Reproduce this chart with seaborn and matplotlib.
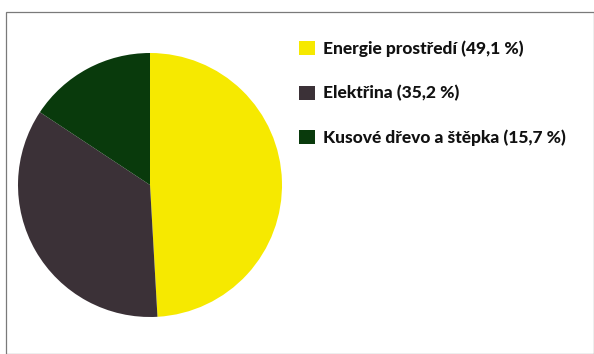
import matplotlib
matplotlib.use("Agg")
import matplotlib.pyplot as plt
import seaborn as sns
from matplotlib.patches import Rectangle, Patch

categories = ["Energie prostředí", "Elektřina", "Kusové dřevo a štěpka"]
values = [49.1, 35.2, 15.7]
value_labels = ["49,1 %", "35,2 %", "15,7 %"]
colors = ["#f6e900", "#3b3137", "#093a0c"]

sns.set_theme(style="white")
plt.rcParams['font.family'] = ['Lato', 'DejaVu Sans']

W, H = 594, 354
fig = plt.figure(figsize=(W / 100, H / 100), dpi=100)
fig.patch.set_facecolor("white")

# outer frame
fig.add_artist(Rectangle((6 / W, 0.5 / H), (W - 6) / W, (H - 12.5) / H,
                         transform=fig.transFigure, fill=False,
                         edgecolor="#7a7a7a", linewidth=0.9))

cx, cy, r = 150, 185, 132
ax = fig.add_axes([(cx - r) / W, (H - cy - r) / H, 2 * r / W, 2 * r / H])
ax.pie(values, colors=colors, startangle=90, counterclock=False,
       radius=1, wedgeprops=dict(linewidth=0))
ax.set_xlim(-1, 1)
ax.set_ylim(-1, 1)
ax.set_aspect("equal")
ax.axis("off")

handles = [Patch(facecolor=c, edgecolor="none") for c in colors]
labels = [f"{c} ({v})" for c, v in zip(categories, value_labels)]
leg = fig.legend(handles, labels, loc="upper left",
                 bbox_to_anchor=(283 / W, 1 - 25 / H),
                 frameon=False, handlelength=0.92, handleheight=0.85,
                 handletextpad=0.5, labelspacing=1.62,
                 prop=dict(family=['Lato', 'DejaVu Sans'], weight="black", size=12.5))
for t in leg.get_texts():
    t.set_color("#111111")

fig.savefig("out.png", dpi=100, facecolor="white")
